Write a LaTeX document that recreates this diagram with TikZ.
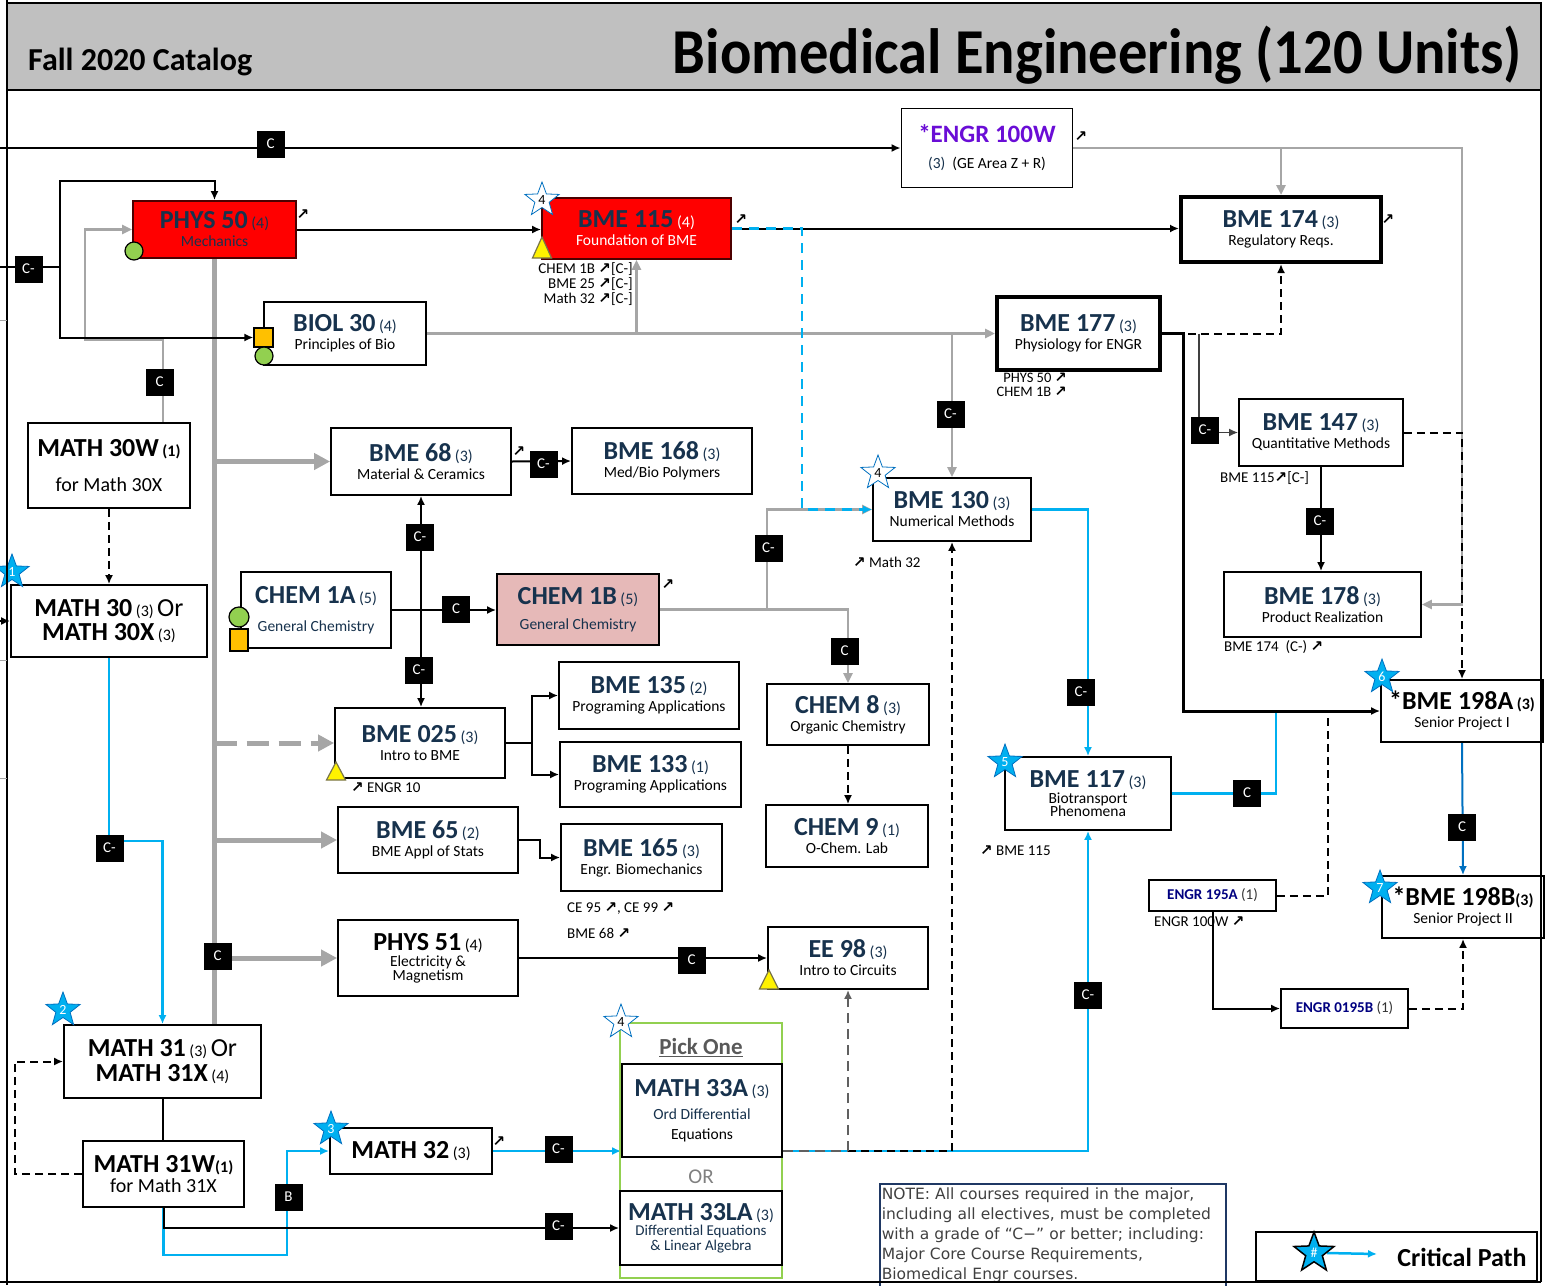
\documentclass[tikz,border=0pt]{standalone}
\usepackage{fontspec}
\setmainfont{Carlito}
\newfontfamily\notefont{DejaVu Sans}
\newfontfamily\nefont{DejaVu Sans}
\usetikzlibrary{arrows.meta,shapes.geometric,backgrounds,calc,positioning}

\definecolor{navy}{HTML}{17324D}
\definecolor{hdrgray}{HTML}{C0C0C0}
\definecolor{lngray}{HTML}{A6A6A6}
\definecolor{dkgray}{HTML}{606060}
\definecolor{cyanln}{HTML}{00B0F0}
\definecolor{starblue}{HTML}{00B0F0}
\definecolor{starline}{HTML}{0070C0}
\definecolor{pinkfill}{HTML}{E6B9B8}
\definecolor{grnfill}{HTML}{92D050}
\definecolor{orgfill}{HTML}{FFC000}
\definecolor{purp}{HTML}{6A0DD6}
\definecolor{engrblue}{HTML}{000080}
\definecolor{notebl}{HTML}{1F3864}
\definecolor{notetx}{HTML}{404040}
\definecolor{pickgray}{HTML}{595959}
\definecolor{redfill}{HTML}{FF0000}

\newcommand{\ttl}[1]{{\fontsize{26}{28}\selectfont\bfseries #1}}
\newcommand{\unt}[1]{{\fontsize{16}{17}\selectfont (#1)}}
\newcommand{\sbt}[2][black]{{\fontsize{15.5}{18}\selectfont\color{#1}#2}}
\newcommand{\nea}{{\nefont\bfseries ↗}}

\begin{document}
\begin{tikzpicture}[x=1pt,y=-1pt,
  course/.style={draw=black, line width=1.8pt, fill=white, inner sep=0pt, align=center, text=navy, font=\fontsize{15.5}{18}\selectfont},
  thickbox/.style={course, line width=4pt},
  tag/.style={fill=black, text=white, inner sep=0pt, minimum width=28pt, minimum height=27pt, font=\fontsize{15}{15}\selectfont},
  critstar/.style={star, star points=5, star point ratio=2.4, minimum size=36pt, inner sep=0pt, fill=starblue, draw=starline, line width=0.8pt, text=white, font=\fontsize{14}{14}\selectfont},
  openstar/.style={critstar, fill=white, text=black},
  grncirc/.style={circle, minimum size=18pt, inner sep=0pt, fill=grnfill, draw=black, line width=1.2pt},
  orgsq/.style={rectangle, minimum size=19pt, inner sep=0pt, fill=orgfill, draw=black, line width=1.2pt},
  neamark/.style={inner sep=0pt, font=\nefont\bfseries\fontsize{15}{15}\selectfont},
  memo/.style={inner sep=0pt, font=\fontsize{15}{15}\selectfont},
  blk/.style={draw=black, line width=2pt},
  blkdash/.style={blk, dash pattern=on 8pt off 5pt},
  dkln/.style={draw=black!75, line width=1.6pt},
  gry/.style={draw=lngray, line width=2.5pt},
  gryk/.style={draw=lngray, line width=5pt},
  gdash/.style={draw=dkgray, line width=2.5pt, dash pattern=on 10pt off 6pt},
  cyn/.style={draw=cyanln, line width=2.5pt},
  cyndash/.style={cyn, dash pattern=on 10pt off 7pt},
  blu/.style={draw=starline, line width=2pt},
  ahead/.style={-{Latex[length=9pt,width=8pt]}},
  gahead/.style={-{Triangle[length=10pt,width=9pt]}},
  bighead/.style={-{Triangle[length=16pt,width=16pt]}}]
\useasboundingbox (0,0) rectangle (1547,1285);

% header
\filldraw[fill=hdrgray, draw=black, line width=2.5pt] (7,3) rectangle (1541,90);
\node[anchor=base west, inner sep=0pt] (catalog) at (28,70) {\fontsize{32}{32}\selectfont\bfseries Fall 2020 Catalog};
\node[anchor=base east, inner sep=0pt] (title) at (1522,73) {\scalebox{0.915}[1]{\fontsize{64}{64}\selectfont\bfseries Biomedical Engineering (120 Units)}};

% courses
\node[course, minimum width=171pt, minimum height=79pt] (engr100w) at (987,148) {{\fontsize{25}{27}\selectfont\bfseries\color{purp}*ENGR 100W}\\[8pt]{\fontsize{15.5}{17}\selectfont\color{navy}(3)\color{black}~~(GE Area Z + R)}};
\node[course, fill=redfill, draw=black!70!red, minimum width=163pt, minimum height=57pt] (phys50) at (214.5,229.5) {\ttl{PHYS 50} \unt{4}\\\sbt[navy]{Mechanics}};
\node[course, fill=redfill, draw=black!70!red, minimum width=189pt, minimum height=61pt] (bme115) at (636.5,228.5) {\ttl{BME 115} {\color{white}\unt{4}}\\\sbt[white]{Foundation of BME}};
\node[thickbox, minimum width=200pt, minimum height=65pt] (bme174) at (1281,229.5) {\ttl{BME 174} \unt{3}\\\sbt{Regulatory Reqs.}};
\node[course, minimum width=162pt, minimum height=63pt] (biol30) at (345,333.5) {\ttl{BIOL 30} \unt{4}\\\sbt{Principles of Bio}};
\node[thickbox, minimum width=163pt, minimum height=73pt] (bme177) at (1078.5,333.5) {\ttl{BME 177} \unt{3}\\\sbt{Physiology for ENGR}};
\node[course, minimum width=164pt, minimum height=67pt] (bme147) at (1321,432.5) {\ttl{BME 147} \unt{3}\\\sbt{Quantitative Methods}};
\node[course, minimum width=197pt, minimum height=65pt] (bme178) at (1322.5,604.5) {\ttl{BME 178} \unt{3}\\\sbt{Product Realization}};
\node[course, text=black, minimum width=162pt, minimum height=62pt] (bme198a) at (1462,711) {\ttl{*BME 198A} {\bfseries\unt{3}}\\\sbt{Senior Project I}};
\node[course, text=black, minimum width=162pt, minimum height=62pt] (bme198b) at (1463,907) {\ttl{*BME 198B}{\bfseries\unt{3}}\\\sbt{Senior Project II}};
\node[course, minimum width=127pt, minimum height=31pt] (engr195a) at (1212.5,895.5) {{\fontsize{15}{16}\selectfont\color{engrblue}\bfseries ENGR 195A \mdseries\color{black!80}(1)}};
\node[course, minimum width=127pt, minimum height=39pt] (engr0195b) at (1344.5,1008.5) {{\fontsize{15}{16}\selectfont\color{engrblue}\bfseries ENGR 0195B \mdseries\color{black!80}(1)}};
\node[course, minimum width=158pt, minimum height=63pt] (bme130) at (952,509.5) {\ttl{BME 130} \unt{3}\\\sbt{Numerical Methods}};
\node[course, minimum width=166pt, minimum height=73pt] (bme117) at (1088,793.5) {\ttl{BME 117} \unt{3}\\[-2pt]\sbt{Biotransport}\\[-5pt]\sbt{Phenomena}};
\node[course, minimum width=150pt, minimum height=76pt] (chem1a) at (316,610) {\ttl{CHEM 1A} \unt{5}\\[10pt]\sbt[navy]{General Chemistry}};
\node[course, fill=pinkfill, minimum width=162pt, minimum height=71pt] (chem1b) at (578,609.5) {\ttl{CHEM 1B} \unt{5}\\[7pt]\sbt[navy]{General Chemistry}};
\node[course, minimum width=180pt, minimum height=67pt] (bme68) at (421,461.5) {\ttl{BME 68} \unt{3}\\\sbt{Material \& Ceramics}};
\node[course, minimum width=180pt, minimum height=66pt] (bme168) at (662,461) {\ttl{BME 168} \unt{3}\\\sbt{Med/Bio Polymers}};
\node[course, minimum width=170pt, minimum height=70pt] (bme025) at (420,743) {\ttl{BME 025} \unt{3}\\\sbt{Intro to BME}};
\node[course, minimum width=180pt, minimum height=67pt] (bme135) at (649,695.5) {\ttl{BME 135} \unt{2}\\\sbt{Programing Applications}};
\node[course, minimum width=181pt, minimum height=65pt] (bme133) at (650.5,774.5) {\ttl{BME 133} \unt{1}\\\sbt{Programing Applications}};
\node[course, minimum width=162pt, minimum height=61pt] (chem8) at (848,714.5) {\ttl{CHEM 8} \unt{3}\\\sbt{Organic Chemistry}};
\node[course, minimum width=162pt, minimum height=62pt] (chem9) at (847,836) {\ttl{CHEM 9} \unt{1}\\\sbt{O-Chem. Lab}};
\node[course, minimum width=180pt, minimum height=66pt] (bme65) at (428,840) {\ttl{BME 65} \unt{2}\\\sbt{BME Appl of Stats}};
\node[course, minimum width=161pt, minimum height=67pt] (bme165) at (641.5,857.5) {\ttl{BME 165} \unt{3}\\\sbt{Engr. Biomechanics}};
\node[course, text=black, minimum width=180pt, minimum height=76pt] (phys51) at (428,958) {\ttl{PHYS 51} \unt{4}\\[-2pt]\sbt{Electricity \&}\\[-4pt]\sbt{Magnetism}};
\node[course, minimum width=160pt, minimum height=62pt] (ee98) at (848,958) {\ttl{EE 98} \unt{3}\\\sbt{Intro to Circuits}};
\node[course, text=black, minimum width=162pt, minimum height=85pt] (math30w) at (109,465.5) {\ttl{MATH 30W} {\bfseries\unt{1}}\\[17pt]{\fontsize{20}{22}\selectfont for Math 30X}};
\node[course, text=black, minimum width=196pt, minimum height=72pt] (math30) at (109,621) {\ttl{MATH 30} \unt{3} {\fontsize{26}{28}\selectfont Or}\\[4pt]\ttl{MATH 30X} \unt{3}};
\node[course, text=black, minimum width=197pt, minimum height=73pt] (math31) at (162.5,1061.5) {\ttl{MATH 31} \unt{3} {\fontsize{26}{28}\selectfont Or}\\[4pt]\ttl{MATH 31X} \unt{4}};
\node[course, text=black, minimum width=161pt, minimum height=66pt] (math31w) at (163.5,1174) {\ttl{MATH 31W}{\bfseries\unt{1}}\\[2pt]{\fontsize{20}{22}\selectfont for Math 31X}};
\node[course, text=black, minimum width=162pt, minimum height=46pt] (math32) at (411,1151) {\ttl{MATH 32} \unt{3}};

% pick one group
\draw[grnfill, line width=2pt] (620,1023) rectangle (782,1278);
\node[inner sep=0pt, text=pickgray, font=\fontsize{23}{24}\selectfont\bfseries] (pick) at (701,1048) {\underline{Pick One}};
\node[course, minimum width=160pt, minimum height=93pt] (math33a) at (702,1110.5) {\ttl{MATH 33A} \unt{3}\\[5pt]\sbt[navy]{Ord Differential}\\[2pt]\sbt{Equations}};
\node[inner sep=0pt, text=black!50, font=\fontsize{21}{22}\selectfont] (orword) at (701,1177) {OR};
\node[course, minimum width=162pt, minimum height=74pt, font=\fontsize{15}{17}\selectfont] (math33la) at (701,1228) {\ttl{MATH 33LA} \unt{3}\\[-2pt]{\color{navy}Differential Equations}\\[-2pt]{\color{navy}\& Linear Algebra}};

% markers
\node[grncirc] (gcP) at (134,251) {};
\node[orgsq] (sqB) at (263.5,337.5) {};
\node[grncirc] (gcB) at (264,356) {};
\node[grncirc, minimum size=20pt] (gcC) at (239,617) {};
\node[orgsq, minimum width=18pt, minimum height=22pt] (sqC) at (239,640) {};
\filldraw[fill=yellow, draw=black!60!yellow, line width=1.2pt] (542,237) -- (532.5,258) -- (551.5,258) -- cycle;
\filldraw[fill=yellow, draw=black!60!yellow, line width=1.2pt] (336,762) -- (326.5,780) -- (345.5,780) -- cycle;
\filldraw[fill=yellow, draw=black!60!yellow, line width=1.2pt] (769,970) -- (759.5,989) -- (778.5,989) -- cycle;

\node[critstar] (star1) at (12,572) {1};
\node[critstar] (star2) at (63,1010) {2};
\node[critstar] (star3) at (331,1129) {3};
\node[critstar] (star5) at (1005,762) {5};
\node[critstar] (star6) at (1382,677) {6};
\node[critstar] (star7) at (1380,888) {7};
\node[openstar] (star4a) at (542,200) {4};
\node[openstar] (star4b) at (878,473) {4};
\node[openstar] (star4c) at (621,1022) {4};

% repeat marks and prerequisites
\node[neamark] (n1) at (303,215) {↗};
\node[neamark] (n2) at (741,220) {↗};
\node[neamark] (n3) at (1081,137) {↗};
\node[neamark] (n4) at (1388,220) {↗};
\node[neamark] (n5) at (519,452) {↗};
\node[neamark] (n6) at (668,585) {↗};
\node[neamark] (n7) at (499,1142) {↗};
\node[memo, anchor=north east, align=right] (pre115) at (633,262) {CHEM 1B \nea[C-]\\BME 25 \nea[C-]\\Math 32 \nea[C-]};
\node[memo, anchor=north east, align=right, font=\fontsize{14.5}{14}\selectfont] (pre177) at (1067,373) {PHYS 50 \nea\\CHEM 1B \nea};
\node[memo, anchor=west] (pre130) at (853,562) {\nea\ Math 32};
\node[memo, anchor=west] (pre147) at (1220,478) {BME 115\nea[C-]};
\node[memo, anchor=west] (pre178) at (1224,647) {BME 174~~(C-) \nea};
\node[memo, anchor=west] (pre025) at (351,788) {\nea\ ENGR 10};
\node[memo, anchor=west] (pre165a) at (567,909) {CE 95 \nea, CE 99 \nea};
\node[memo, anchor=west] (pre165b) at (567,933) {BME 68 \nea};
\node[memo, anchor=west] (pre117) at (980,851) {\nea\ BME 115};
\node[memo, anchor=west] (pre195) at (1154,922) {ENGR 100W \nea};

% grade tags
\node[tag] (tagC1) at (270.5,144) {C};
\node[tag] (tagCm1) at (28.5,269) {C-};
\node[tag] (tagC2) at (159.5,382) {C};
\node[tag] (tagCm2) at (1205,430) {C-};
\node[tag] (tagCm3) at (1320,521) {C-};
\node[tag] (tagC3) at (1462,827) {C};
\node[tag] (tagCm4) at (950.5,414) {C-};
\node[tag] (tagCm5) at (543.5,464) {C-};
\node[tag] (tagCm6) at (420,537) {C-};
\node[tag] (tagCm7) at (419,670) {C-};
\node[tag] (tagC4) at (456,609) {C};
\node[tag] (tagCm8) at (768.5,548) {C-};
\node[tag] (tagC5) at (844.5,651) {C};
\node[tag] (tagCm9) at (1081,692) {C-};
\node[tag] (tagC6) at (1247,793) {C};
\node[tag] (tagCm10) at (1088,995) {C-};
\node[tag] (tagCm11) at (109.5,848) {C-};
\node[tag] (tagC7) at (217.5,956) {C};
\node[tag] (tagC8) at (691.5,960) {C};
\node[tag] (tagB) at (288.5,1197) {B};
\node[tag] (tagCm12) at (558.5,1149) {C-};
\node[tag] (tagCm13) at (558.5,1226) {C-};

% note and legend
\node[draw=notebl, line width=1.5pt, anchor=north west, inner sep=2pt, text width=342pt, minimum height=103pt, align=left, text=notetx, font=\notefont\fontsize{15.5}{20}\selectfont] (note) at (879,1183) {NOTE: All courses required in the major,\\including all electives, must be completed\\with a grade of “C−” or better; including:\\Major Core Course Requirements,\\Biomedical Engr courses.};
\draw[black, line width=2pt] (1256,1232) rectangle (1537,1281);
\node[critstar, draw=black, line width=1.5pt, minimum size=42pt] (legstar) at (1314,1253) {\#};
\coordinate (legend end) at (1377,1254);
\node[inner sep=0pt, font=\fontsize{26}{28}\selectfont\bfseries] (crit) at (1462,1257) {Critical Path};

% connectors
\begin{scope}[on background layer]
\coordinate (inA) at (0,148);
\coordinate (inB) at (0,267);
\coordinate (jB) at (60,267);
\coordinate (inM) at (0,621);
\coordinate (jC) at (421,610);
% critical path (blue)
\draw[cyn,ahead] (math30.south) -- (109,841) -| (math31.north);
\draw[cyn,ahead] (math31w.south) -- (163.5,1255) -| (287,1151) -- (math32.west);
\draw[cyn,ahead] (math32.east) -- (math32.east -| math33a.west);
\draw[cyn,ahead] (math33a.east |- math32.east) -| (bme117.south);
\draw[cyn,ahead] (bme130.east) -| (bme117.north);
\draw[cyn] (bme117.east) -| (1276,711);
\draw[blu,ahead] (bme198a.south) -- (bme198b.north);
\draw[cyn,ahead] (legstar.east) -- (legend end);
% gray
\draw[gry,gahead] (engr100w.east) -- (1462,148) -- (1462,604.5) -- (bme178.east);
\draw[gry,gahead] (1281,148) -- (bme174.north);
\draw[gry,gahead] ([xshift=54pt]math30w.north) -- (163,340) -- (85,340) -- (85,229.5) -- (phys50.west);
\draw[gry,gahead] (biol30.east) -- (bme177.west);
\draw[gry,gahead] (636.5,333.5) -- (bme115.south);
\draw[gry,gahead] (952,333.5) -- (bme130.north);
\draw[gry,gahead] (chem1b.east) -| (chem8.north);
\draw[gry,gahead] (767,609.5) |- (bme130.west);
\draw[gryk] (phys50.south) -- (phys50.south |- math31.north);
\draw[gryk,bighead] (214.5,461.5) -- (bme68.west);
\draw[gryk,bighead,dash pattern=on 22pt off 10pt] (214.5,743) -- (bme025.west);
\draw[gryk,bighead] (214.5,840) -- (bme65.west);
\draw[gryk,bighead] (214.5,958) -- (phys51.west);
% black
\draw[blk,ahead] (inA) -- (engr100w.west);
\draw[blk] (inB) -- (jB);
\draw[blk,ahead] (jB) -- (60,181) -| (phys50.north);
\draw[blk,ahead] (jB) |- (sqB.west);
\draw[blk,ahead] (inM) -- (math30.west);
\draw[blk,ahead] (phys50.east) -- (phys50.east -| bme115.west);
\draw[blk,ahead] (bme115.east) -- (bme115.east -| bme174.west);
\draw[cyndash,ahead] (bme115.east) -- (802,228.5) -- (802,509.5) -- (bme130.west);
\draw[blk,line width=3pt,ahead] (bme177.east) -- (1183,333.5) -- (1183,711) -- (bme198a.west);
\draw[dkln,ahead] (1199,333.5) |- (bme147.west);
\draw[blk,ahead] (bme147.south) -- (bme147.south |- bme178.north);
\draw[blk] (bme025.east) -- (532,743);
\draw[blk,ahead] (532,743) |- (bme135.west);
\draw[blk,ahead] (532,743) |- (bme133.west);
\draw[blk,ahead] (bme68.east) -- (bme168.west);
\draw[blk,ahead] (chem1a.east) -- (chem1a.east -| chem1b.west);
\draw[blk,ahead] (jC) -- (bme68.south);
\draw[blk,ahead] (jC) -- (jC |- bme025.north);
\draw[blk,ahead] (bme65.east) -- (540,840) |- (bme165.west);
\draw[blk,ahead] (phys51.east) -- (phys51.east -| ee98.west);
\draw[blk] (math31.south) -- (math31.south |- math31w.north);
\draw[blk,ahead] (math31w.south) |- (math33la.west);
\draw[blk,ahead] (engr195a.south) |- (engr0195b.west);
% dashed
\draw[blkdash,ahead] (math30w.south) -- (math30.north);
\draw[blkdash,ahead] (math31w.west) -- (15,1174) |- (math31.west);
\draw[blkdash,ahead] (bme177.east) -| (bme174.south);
\draw[blkdash,ahead] (bme147.east) -| (bme198a.north);
\draw[blkdash,ahead] (chem8.south) -- (chem8.south |- chem9.north);
\draw[blkdash,ahead] (952,1151) -- (bme130.south);
\draw[blkdash] (848,1151) -- (952,1151);
\draw[blkdash] (engr195a.east) -| (1328,711);
\draw[blkdash,ahead] (engr0195b.east) -| (bme198b.south);
\draw[gdash] (math33a.east |- math32.east) -- (848,1151);
\draw[gdash,ahead] (848,1151) -- (ee98.south);
\end{scope}

% frame
\draw[black, line width=2pt] (7,0) -- (7,1285);
\draw[black, line width=2pt] (1541,90) -- (1541,1282);
\draw[black, line width=2pt] (0,1282) -- (1541,1282);
\draw[lngray, line width=0.8pt] (0,320) -- (7,320);
\draw[lngray, line width=0.8pt] (0,660) -- (7,660);
\draw[lngray, line width=0.8pt] (0,778) -- (7,778);
\end{tikzpicture}
\end{document}
